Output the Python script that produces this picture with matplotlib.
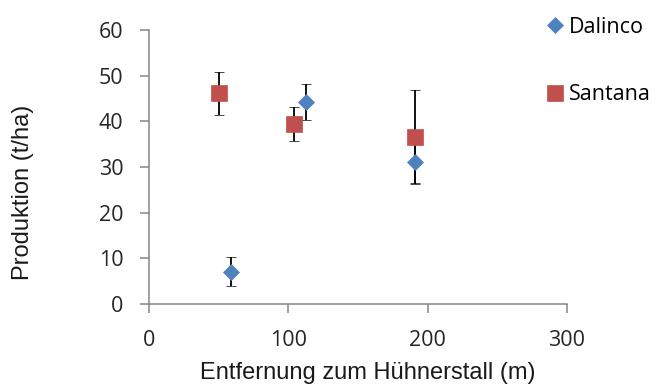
import matplotlib
matplotlib.use('Agg')
import matplotlib.pyplot as plt

# Daten
dalinco_x = [59, 113, 191]
dalinco_y = [7.1, 44.2, 31.2]
dalinco_err = [3.2, 3.9, 4.8]

santana_x = [50, 104, 191]
santana_y = [46.1, 39.4, 36.6]
santana_err = [4.7, 3.7, 10.3]

x_ticks = [0, 100, 200, 300]
y_ticks = [0, 10, 20, 30, 40, 50, 60]

blue = '#4F81BD'
red = '#C0504D'
axis_grey = '#868686'

fig = plt.figure(figsize=(6.65, 3.85), dpi=100)
ax = fig.add_axes([149 / 665, 1 - 304 / 385, 418 / 665, 274 / 385])

ax.errorbar(dalinco_x, dalinco_y, yerr=dalinco_err, fmt='D', color=blue,
            markersize=8.5, markeredgecolor=blue, markeredgewidth=0.5,
            ecolor='black', elinewidth=1.3, capsize=3.6, capthick=1.3,
            label='Dalinco', zorder=3)
ax.errorbar(santana_x, santana_y, yerr=santana_err, fmt='s', color=red,
            markersize=12, markeredgecolor=red, markeredgewidth=0.5,
            ecolor='black', elinewidth=1.3, capsize=3.6, capthick=1.3,
            label='Santana', zorder=3)

ax.set_xlim(0, 300)
ax.set_ylim(0, 60)
ax.set_xticks(x_ticks)
ax.set_yticks(y_ticks)

for side in ['top', 'right']:
    ax.spines[side].set_visible(False)
for side in ['left', 'bottom']:
    ax.spines[side].set_color(axis_grey)
    ax.spines[side].set_linewidth(1.1)

ax.tick_params(axis='both', direction='out', length=6.5, width=1.1,
               color=axis_grey, labelcolor='#262626', labelsize=15.5, pad=12)
for lbl in ax.get_xticklabels() + ax.get_yticklabels():
    lbl.set_fontfamily('Open Sans')

# Achsenbeschriftungen
fig.text(368 / 665, 6 / 385, 'Entfernung zum Hühnerstall (m)', ha='center',
         va='baseline', fontsize=17, family='Liberation Sans', color='#1a1a1a')
fig.text(23 / 665, 1 - 192 / 385, 'Produktion (t/ha)', ha='center',
         va='center', rotation=90, fontsize=17, family='Liberation Sans',
         color='#1a1a1a')

# Legende
handles, labels = ax.get_legend_handles_labels()
handles = [h[0] for h in handles]
fig.legend(handles, labels, loc='upper left',
           bbox_to_anchor=(546 / 665, 1 - 17 / 385), frameon=False,
           borderpad=0, borderaxespad=0, handlelength=0.8, handletextpad=0.25,
           labelspacing=2.15, prop={'family': 'Open Sans', 'size': 15.5})

fig.savefig('out.png', dpi=100, facecolor='white')
